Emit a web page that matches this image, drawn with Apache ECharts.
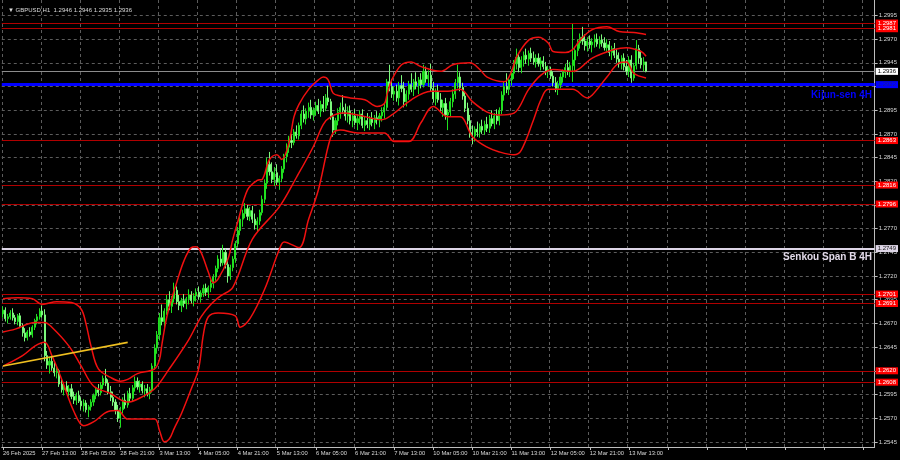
<!DOCTYPE html>
<html>
<head>
<meta charset="utf-8">
<script src="https://cdn.jsdelivr.net/npm/echarts@6/dist/echarts.min.js"></script>
<style>html,body{margin:0;padding:0;background:#000;}#c{width:900px;height:460px;}</style>
</head>
<body>
<div id="c"></div>
<script>
// ---- tick labels (every 16 hourly bars) ----
const timeTickLabels = ['26 Feb 2025','27 Feb 13:00','28 Feb 05:00','28 Feb 21:00','3 Mar 13:00','4 Mar 05:00','4 Mar 21:00','5 Mar 13:00','6 Mar 05:00','6 Mar 21:00','7 Mar 13:00','10 Mar 05:00','10 Mar 21:00','11 Mar 13:00','12 Mar 05:00','12 Mar 21:00','13 Mar 13:00'];
const priceTicks = [1.2545,1.2570,1.2595,1.2620,1.2645,1.2670,1.2695,1.2720,1.2745,1.2770,1.2795,1.2820,1.2845,1.2870,1.2895,1.2920,1.2945,1.2970,1.2995];
const titleText = '\u25BC GBPUSD,H1  1.2946 1.2946 1.2935 1.2936';

// ---- hourly candles [open, high, low, close] ----
const ohlc = [
[1.2680,1.2688,1.2676,1.2684],[1.2684,1.2687,1.2672,1.2675],[1.2675,1.2680,1.2670,1.2677],[1.2677,1.2684,1.2674,1.2681],
[1.2681,1.2686,1.2673,1.2676],[1.2676,1.2679,1.2669,1.2672],[1.2672,1.2680,1.2668,1.2678],[1.2678,1.2681,1.2665,1.2667],
[1.2667,1.2670,1.2656,1.2660],[1.2660,1.2665,1.2651,1.2655],[1.2655,1.2663,1.2652,1.2661],[1.2661,1.2666,1.2656,1.2658],
[1.2658,1.2668,1.2655,1.2666],[1.2666,1.2675,1.2663,1.2673],[1.2673,1.2680,1.2669,1.2677],[1.2677,1.2686,1.2674,1.2683],
[1.2683,1.2689,1.2676,1.2679],[1.2679,1.2685,1.2630,1.2636],[1.2636,1.2641,1.2622,1.2626],[1.2626,1.2634,1.2617,1.2630],
[1.2630,1.2636,1.2620,1.2623],[1.2623,1.2629,1.2614,1.2618],[1.2618,1.2625,1.2612,1.2620],[1.2620,1.2622,1.2603,1.2606],
[1.2606,1.2611,1.2597,1.2600],[1.2600,1.2607,1.2594,1.2604],[1.2604,1.2609,1.2596,1.2598],[1.2598,1.2605,1.2593,1.2601],
[1.2601,1.2606,1.2590,1.2593],[1.2593,1.2598,1.2585,1.2589],[1.2589,1.2597,1.2584,1.2594],[1.2594,1.2599,1.2586,1.2588],
[1.2588,1.2592,1.2579,1.2583],[1.2583,1.2590,1.2577,1.2586],[1.2586,1.2589,1.2576,1.2579],[1.2579,1.2584,1.2571,1.2582],
[1.2582,1.2590,1.2578,1.2587],[1.2587,1.2596,1.2583,1.2594],[1.2594,1.2603,1.2590,1.2600],[1.2600,1.2606,1.2593,1.2597],
[1.2597,1.2608,1.2594,1.2605],[1.2605,1.2615,1.2601,1.2612],[1.2612,1.2622,1.2604,1.2607],[1.2607,1.2611,1.2595,1.2598],
[1.2598,1.2604,1.2588,1.2592],[1.2592,1.2598,1.2583,1.2587],[1.2587,1.2590,1.2574,1.2578],[1.2578,1.2584,1.2566,1.2570],
[1.2570,1.2582,1.2560,1.2579],[1.2579,1.2592,1.2575,1.2589],[1.2589,1.2596,1.2580,1.2584],[1.2584,1.2599,1.2581,1.2596],
[1.2596,1.2602,1.2587,1.2591],[1.2591,1.2605,1.2588,1.2602],[1.2602,1.2614,1.2598,1.2609],[1.2609,1.2613,1.2600,1.2603],
[1.2603,1.2610,1.2597,1.2606],[1.2606,1.2609,1.2596,1.2599],[1.2599,1.2605,1.2592,1.2601],[1.2601,1.2606,1.2593,1.2596],
[1.2596,1.2603,1.2590,1.2600],[1.2600,1.2628,1.2597,1.2625],[1.2625,1.2648,1.2621,1.2644],[1.2644,1.2662,1.2638,1.2658],
[1.2658,1.2681,1.2652,1.2676],[1.2676,1.2690,1.2668,1.2672],[1.2672,1.2686,1.2666,1.2683],[1.2683,1.2700,1.2679,1.2695],
[1.2695,1.2704,1.2684,1.2688],[1.2688,1.2699,1.2681,1.2696],[1.2696,1.2713,1.2692,1.2705],[1.2705,1.2709,1.2690,1.2693],
[1.2693,1.2700,1.2684,1.2689],[1.2689,1.2697,1.2682,1.2694],[1.2694,1.2701,1.2687,1.2691],[1.2691,1.2698,1.2685,1.2696],
[1.2696,1.2706,1.2690,1.2700],[1.2700,1.2704,1.2691,1.2694],[1.2694,1.2702,1.2688,1.2699],[1.2699,1.2707,1.2693,1.2703],
[1.2703,1.2709,1.2695,1.2698],[1.2698,1.2705,1.2692,1.2702],[1.2702,1.2711,1.2698,1.2707],[1.2707,1.2712,1.2699,1.2703],
[1.2703,1.2710,1.2697,1.2708],[1.2708,1.2716,1.2703,1.2712],[1.2712,1.2722,1.2707,1.2719],[1.2719,1.2731,1.2715,1.2728],
[1.2728,1.2742,1.2724,1.2738],[1.2738,1.2748,1.2730,1.2734],[1.2734,1.2753,1.2731,1.2745],[1.2745,1.2749,1.2728,1.2732],
[1.2732,1.2736,1.2713,1.2720],[1.2720,1.2732,1.2716,1.2729],[1.2729,1.2741,1.2725,1.2738],[1.2738,1.2757,1.2734,1.2754],
[1.2754,1.2772,1.2750,1.2768],[1.2768,1.2785,1.2763,1.2780],[1.2780,1.2790,1.2772,1.2786],[1.2786,1.2797,1.2781,1.2791],
[1.2791,1.2795,1.2779,1.2783],[1.2783,1.2793,1.2778,1.2789],[1.2789,1.2794,1.2776,1.2780],[1.2780,1.2786,1.2769,1.2774],
[1.2774,1.2782,1.2767,1.2778],[1.2778,1.2790,1.2774,1.2787],[1.2787,1.2805,1.2784,1.2801],[1.2801,1.2822,1.2797,1.2818],
[1.2818,1.2845,1.2812,1.2838],[1.2838,1.2851,1.2826,1.2830],[1.2830,1.2840,1.2818,1.2822],[1.2822,1.2835,1.2815,1.2829],
[1.2829,1.2838,1.2816,1.2819],[1.2819,1.2826,1.2811,1.2823],[1.2823,1.2836,1.2819,1.2833],[1.2833,1.2849,1.2829,1.2846],
[1.2846,1.2860,1.2840,1.2856],[1.2856,1.2868,1.2850,1.2863],[1.2863,1.2870,1.2855,1.2861],[1.2861,1.2875,1.2858,1.2872],
[1.2872,1.2879,1.2865,1.2868],[1.2868,1.2882,1.2864,1.2879],[1.2879,1.2895,1.2875,1.2891],[1.2891,1.2900,1.2882,1.2886],
[1.2886,1.2897,1.2880,1.2894],[1.2894,1.2903,1.2887,1.2898],[1.2898,1.2906,1.2886,1.2890],[1.2890,1.2898,1.2884,1.2895],
[1.2895,1.2904,1.2889,1.2900],[1.2900,1.2907,1.2891,1.2894],[1.2894,1.2905,1.2888,1.2901],[1.2901,1.2910,1.2893,1.2897],
[1.2897,1.2912,1.2894,1.2908],[1.2908,1.2921,1.2900,1.2904],[1.2904,1.2907,1.2885,1.2888],[1.2888,1.2892,1.2867,1.2874],
[1.2874,1.2887,1.2870,1.2884],[1.2884,1.2897,1.2879,1.2893],[1.2893,1.2903,1.2886,1.2898],[1.2898,1.2911,1.2891,1.2895],
[1.2895,1.2902,1.2884,1.2889],[1.2889,1.2899,1.2882,1.2894],[1.2894,1.2900,1.2880,1.2884],[1.2884,1.2893,1.2877,1.2889],
[1.2889,1.2896,1.2879,1.2882],[1.2882,1.2891,1.2874,1.2886],[1.2886,1.2895,1.2880,1.2891],[1.2891,1.2896,1.2876,1.2879],
[1.2879,1.2888,1.2873,1.2884],[1.2884,1.2892,1.2876,1.2880],[1.2880,1.2889,1.2874,1.2886],[1.2886,1.2893,1.2878,1.2882],
[1.2882,1.2890,1.2875,1.2887],[1.2887,1.2894,1.2880,1.2885],[1.2885,1.2892,1.2877,1.2889],[1.2889,1.2898,1.2883,1.2893],
[1.2893,1.2902,1.2886,1.2898],[1.2898,1.2928,1.2895,1.2925],[1.2925,1.2943,1.2915,1.2920],[1.2920,1.2928,1.2908,1.2912],
[1.2912,1.2920,1.2905,1.2915],[1.2915,1.2922,1.2904,1.2908],[1.2908,1.2925,1.2900,1.2921],[1.2921,1.2932,1.2914,1.2918],
[1.2918,1.2925,1.2898,1.2904],[1.2904,1.2916,1.2899,1.2912],[1.2912,1.2926,1.2906,1.2922],[1.2922,1.2934,1.2914,1.2917],
[1.2917,1.2928,1.2910,1.2925],[1.2925,1.2935,1.2917,1.2921],[1.2921,1.2930,1.2912,1.2927],[1.2927,1.2934,1.2918,1.2922],
[1.2922,1.2943,1.2919,1.2936],[1.2936,1.2941,1.2924,1.2928],[1.2928,1.2937,1.2920,1.2932],[1.2932,1.2944,1.2915,1.2918],
[1.2918,1.2925,1.2903,1.2907],[1.2907,1.2918,1.2900,1.2914],[1.2914,1.2922,1.2903,1.2906],[1.2906,1.2913,1.2893,1.2898],
[1.2898,1.2906,1.2888,1.2902],[1.2902,1.2908,1.2885,1.2890],[1.2890,1.2896,1.2874,1.2893],[1.2893,1.2908,1.2888,1.2904],
[1.2904,1.2917,1.2898,1.2912],[1.2912,1.2928,1.2907,1.2924],[1.2924,1.2943,1.2918,1.2930],[1.2930,1.2935,1.2915,1.2919],
[1.2919,1.2924,1.2906,1.2910],[1.2910,1.2914,1.2893,1.2897],[1.2897,1.2903,1.2880,1.2884],[1.2884,1.2890,1.2866,1.2871],
[1.2871,1.2879,1.2859,1.2868],[1.2868,1.2878,1.2862,1.2875],[1.2875,1.2883,1.2867,1.2872],[1.2872,1.2881,1.2866,1.2878],
[1.2878,1.2885,1.2870,1.2874],[1.2874,1.2884,1.2869,1.2880],[1.2880,1.2888,1.2872,1.2876],[1.2876,1.2890,1.2871,1.2886],
[1.2886,1.2895,1.2878,1.2881],[1.2881,1.2892,1.2875,1.2889],[1.2889,1.2896,1.2880,1.2884],[1.2884,1.2898,1.2879,1.2895],
[1.2895,1.2915,1.2891,1.2911],[1.2911,1.2925,1.2905,1.2920],[1.2920,1.2934,1.2913,1.2917],[1.2917,1.2930,1.2911,1.2927],
[1.2927,1.2938,1.2921,1.2934],[1.2934,1.2948,1.2928,1.2944],[1.2944,1.2960,1.2938,1.2951],[1.2951,1.2955,1.2935,1.2940],
[1.2940,1.2952,1.2934,1.2948],[1.2948,1.2957,1.2941,1.2953],[1.2953,1.2960,1.2944,1.2949],[1.2949,1.2958,1.2942,1.2955],
[1.2955,1.2961,1.2946,1.2950],[1.2950,1.2957,1.2943,1.2946],[1.2946,1.2954,1.2940,1.2950],[1.2950,1.2955,1.2941,1.2944],
[1.2944,1.2951,1.2937,1.2947],[1.2947,1.2952,1.2938,1.2941],[1.2941,1.2946,1.2932,1.2936],[1.2936,1.2942,1.2929,1.2938],
[1.2938,1.2941,1.2928,1.2931],[1.2931,1.2936,1.2920,1.2924],[1.2924,1.2930,1.2914,1.2918],[1.2918,1.2926,1.2911,1.2922],
[1.2922,1.2934,1.2918,1.2930],[1.2930,1.2938,1.2924,1.2935],[1.2935,1.2944,1.2929,1.2940],[1.2940,1.2948,1.2932,1.2936],
[1.2936,1.2946,1.2930,1.2942],[1.2942,1.2986,1.2925,1.2948],[1.2948,1.2962,1.2935,1.2958],[1.2958,1.2970,1.2952,1.2966],
[1.2966,1.2976,1.2960,1.2972],[1.2972,1.2983,1.2964,1.2968],[1.2968,1.2975,1.2958,1.2963],[1.2963,1.2972,1.2957,1.2968],
[1.2968,1.2974,1.2960,1.2964],[1.2964,1.2971,1.2956,1.2967],[1.2967,1.2975,1.2961,1.2970],[1.2970,1.2976,1.2962,1.2965],
[1.2965,1.2973,1.2960,1.2969],[1.2969,1.2975,1.2962,1.2966],[1.2966,1.2972,1.2958,1.2961],[1.2961,1.2970,1.2956,1.2964],
[1.2964,1.2968,1.2952,1.2956],[1.2956,1.2963,1.2948,1.2960],[1.2960,1.2966,1.2950,1.2953],[1.2953,1.2960,1.2945,1.2949],
[1.2949,1.2956,1.2940,1.2944],[1.2944,1.2953,1.2938,1.2950],[1.2950,1.2955,1.2937,1.2941],[1.2941,1.2948,1.2932,1.2936],
[1.2936,1.2952,1.2930,1.2948],[1.2948,1.2953,1.2924,1.2929],[1.2929,1.2945,1.2926,1.2942],[1.2942,1.2969,1.2938,1.2960],
[1.2960,1.2964,1.2944,1.2950],[1.2950,1.2958,1.2939,1.2943],[1.2943,1.2951,1.2936,1.2946],[1.2946,1.2946,1.2935,1.2936]
];

// ---- Bollinger bands, read at sampled bars: [bar index, price] ----
const bbUpper = [[0,1.2696],[6,1.2697],[12,1.2696],[16,1.2690],[22,1.2693],[28,1.2692],[32,1.2685],[34,1.2669],[36,1.2646],[39,1.2622],[44,1.2613],[48,1.2609],[51,1.2611],[55,1.2617],[62,1.2622],[64,1.2632],[65,1.2648],[67,1.2677],[69,1.2696],[71,1.2713],[74,1.2736],[77,1.2750],[79,1.2751],[81,1.2745],[84,1.2724],[86,1.2713],[88,1.2717],[92,1.2738],[94,1.2759],[96,1.2777],[100,1.2811],[104,1.2821],[106,1.2822],[109,1.2843],[112,1.2848],[114,1.2843],[117,1.2861],[119,1.2888],[121,1.2901],[125,1.2917],[129,1.2927],[131,1.2930],[133,1.2927],[135,1.2913],[138,1.2910],[142,1.2908],[148,1.2906],[153,1.2899],[156,1.2902],[157,1.2911],[159,1.2927],[163,1.2943],[167,1.2946],[171,1.2941],[179,1.2936],[184,1.2943],[191,1.2945],[195,1.2938],[198,1.2930],[205,1.2925],[208,1.2936],[210,1.2951],[215,1.2969],[219,1.2972],[223,1.2966],[225,1.2957],[230,1.2956],[233,1.2959],[236,1.2969],[241,1.2980],[247,1.2983],[252,1.2978],[258,1.2977],[263,1.2975]];
const bbMiddle = [[0,1.2661],[5,1.2664],[13,1.2671],[17,1.2671],[20,1.2666],[27,1.2646],[32,1.2625],[37,1.2604],[44,1.2596],[51,1.2587],[55,1.2590],[62,1.2601],[68,1.2622],[76,1.2653],[81,1.2677],[85,1.2690],[89,1.2699],[94,1.2708],[102,1.2759],[113,1.2793],[120,1.2824],[127,1.2857],[131,1.2880],[134,1.2888],[139,1.2892],[145,1.2890],[155,1.2885],[159,1.2890],[167,1.2906],[175,1.2915],[182,1.2915],[187,1.2917],[192,1.2904],[198,1.2893],[203,1.2890],[209,1.2892],[215,1.2917],[220,1.2932],[225,1.2938],[233,1.2936],[241,1.2950],[250,1.2959],[255,1.2961],[261,1.2957],[263,1.2952]];
const bbLower = [[0,1.2625],[8,1.2636],[13,1.2646],[17,1.2650],[20,1.2636],[24,1.2611],[29,1.2577],[33,1.2562],[37,1.2566],[43,1.2577],[47,1.2578],[51,1.2569],[62,1.2569],[64,1.2557],[66,1.2545],[68,1.2548],[70,1.2559],[73,1.2575],[77,1.2601],[80,1.2622],[82,1.2659],[84,1.2677],[88,1.2681],[95,1.2678],[97,1.2666],[101,1.2675],[107,1.2706],[113,1.2748],[115,1.2756],[121,1.2750],[125,1.2780],[129,1.2811],[133,1.2857],[135,1.2871],[138,1.2874],[145,1.2871],[156,1.2871],[160,1.2862],[166,1.2862],[171,1.2882],[176,1.2899],[182,1.2888],[187,1.2888],[192,1.2867],[198,1.2856],[203,1.2851],[209,1.2848],[212,1.2853],[217,1.2885],[220,1.2906],[223,1.2917],[233,1.2917],[239,1.2908],[241,1.2911],[247,1.2930],[252,1.2945],[255,1.2946],[258,1.2934],[263,1.2929]];
const trendLine = [[0,1.2625],[51,1.2650]];

// ---- horizontal levels ----
const redLevels = [1.2987,1.2981,1.2863,1.2816,1.2796,1.2701,1.2691,1.2620,1.2608];
const currentPrice = 1.2936;
const kijunLevel = 1.2922;
const senkouLevel = 1.2749;
const kijunText = 'Kijun-sen 4H';
const senkouText = 'Senkou Span B 4H';

// ---- build ----
const totalSlots = 357;
const categories = [];
for (let i = 0; i < totalSlots; i++) {
  categories.push(i % 16 === 0 && (i / 16) < timeTickLabels.length ? timeTickLabels[i / 16] : '');
}
const candleData = ohlc.map(r => [r[0], r[3], r[2], r[1]]);
const FONT = 'Liberation Sans';
function lvlLabel(bg, fg) {
  return { show: true, position: 'end', distance: 1, formatter: p => Number(p.value).toFixed(4),
    backgroundColor: bg, color: fg, fontSize: 6, fontFamily: FONT, padding: [1, 2, 0, 2] };
}
const markData = [];
redLevels.forEach(v => markData.push({ yAxis: v, lineStyle: { color: '#b00000', width: 1, type: 'solid' }, label: lvlLabel('#ff0000', '#ffffff') }));
markData.push({ yAxis: currentPrice, lineStyle: { color: '#8c8c8c', width: 1, type: 'solid' }, label: lvlLabel('#ffffff', '#000000') });
markData.push({ yAxis: senkouLevel, lineStyle: { color: '#ddd5e6', width: 2, type: 'solid' }, label: lvlLabel('#ddd5e6', '#202020') });
markData.push({ yAxis: kijunLevel, lineStyle: { color: '#0000ff', width: 3, type: 'solid' }, label: lvlLabel('#0000ff', '#1a1a90') });

const chart = echarts.init(document.getElementById('c'), null, { renderer: 'canvas' });
const bandStyle = { color: '#f01010', width: 1.5 };
chart.setOption({
  backgroundColor: '#000000',
  animation: false,
  title: { text: titleText, left: 3, top: 2, textStyle: { color: '#dcdcdc', fontSize: 6, fontWeight: 'normal', fontFamily: FONT } },
  grid: { left: 0, right: 25, top: 0, bottom: 13 },
  xAxis: {
    type: 'category', data: categories, boundaryGap: true,
    axisLine: { show: true, lineStyle: { color: '#bdbdbd', width: 1 } },
    axisTick: { show: true, interval: 15, alignWithLabel: true, length: 3, lineStyle: { color: '#bdbdbd' } },
    axisLabel: { interval: 15, color: '#d8d8d8', fontSize: 5.8, fontFamily: FONT, align: 'left', margin: 3 },
    splitLine: { show: true, interval: 15, lineStyle: { color: '#5c5c5c', type: [3, 3], width: 1 } }
  },
  yAxis: {
    type: 'value', position: 'right', min: 1.253958, max: 1.301132, scale: true,
    axisLine: { show: true, lineStyle: { color: '#bdbdbd', width: 1 } },
    axisTick: { show: true, customValues: priceTicks, length: 3, inside: false, lineStyle: { color: '#bdbdbd' } },
    axisLabel: { customValues: priceTicks, color: '#d8d8d8', fontSize: 6, fontFamily: FONT, margin: 4, formatter: v => v.toFixed(4) },
    splitLine: { show: true, lineStyle: { color: '#5c5c5c', type: [3, 3], width: 1 } }
  },
  series: [
    { type: 'candlestick', data: candleData, barWidth: 1.6, z: 3,
      itemStyle: { color: '#20d020', color0: '#a0ffa0', borderColor: '#20e020', borderColor0: '#7cf87c', borderWidth: 1 },
      markLine: { silent: true, precision: 4, symbol: ['none', 'none'], animation: false, data: markData, z: 1 } },
    { type: 'line', data: bbUpper, smooth: 0.35, showSymbol: false, lineStyle: bandStyle, z: 4 },
    { type: 'line', data: bbMiddle, smooth: 0.35, showSymbol: false, lineStyle: bandStyle, z: 4 },
    { type: 'line', data: bbLower, smooth: 0.35, showSymbol: false, lineStyle: bandStyle, z: 4 },
    { type: 'line', data: trendLine, showSymbol: false, lineStyle: { color: '#f0c020', width: 1.6 }, z: 4 }
  ],
  graphic: [
    { type: 'text', right: 28, top: 90, z: 10, style: { text: kijunText, fill: '#0000ff', font: 'bold 10px "Liberation Sans"' } },
    { type: 'text', right: 28, top: 252, z: 10, style: { text: senkouText, fill: '#e2dae9', font: 'bold 10px "Liberation Sans"' } }
  ]
});
</script>
</body>
</html>
